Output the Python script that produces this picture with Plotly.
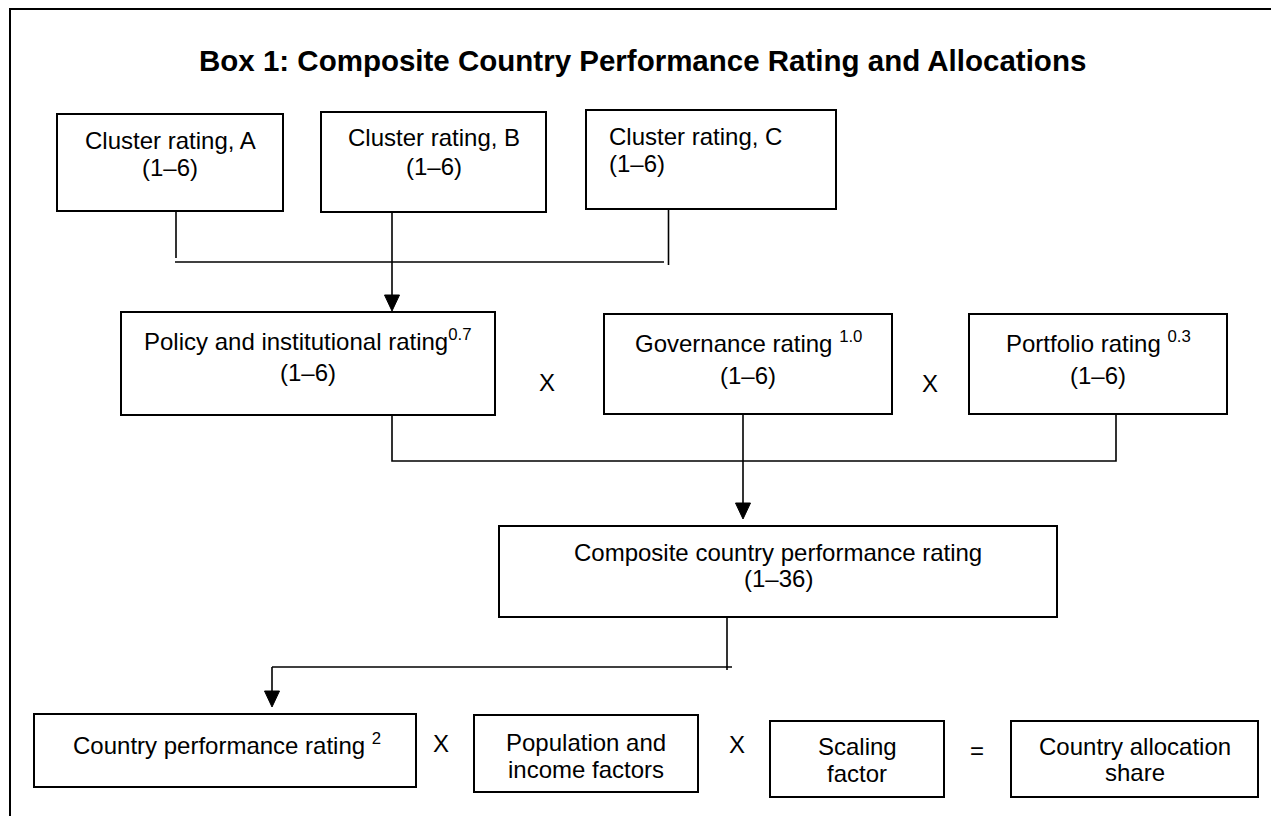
import plotly.graph_objects as go

W, H = 1279, 816
OFF = 8  # page margin of the browser: data coords == screen pixels
FONT = "Liberation Sans, Arial, Helvetica, sans-serif"

title_text = "Box 1: Composite Country Performance Rating and Allocations"

# box labels (line 1, line 2)
box_names = ["clA", "clB", "clC", "policy", "gov", "port", "comp", "cpr", "pop", "scal", "alloc"]
line1 = ["Cluster rating, A", "Cluster rating, B", "Cluster rating, C",
         "Policy and institutional rating<sup>0.7</sup>", "Governance rating <sup>1.0</sup>",
         "Portfolio rating <sup>0.3</sup>", "Composite country performance rating",
         "Country performance rating <sup>2</sup>", "Population and", "Scaling", "Country allocation"]
line2 = ["(1–6)", "(1–6)", "(1–6)", "(1–6)", "(1–6)", "(1–6)", "(1–36)",
         "", "income factors", "factor", "share"]
operators = ["X", "X", "X", "X", "="]

# ---- layout geometry (screen pixels) ----
box_rect = {  # x0, y0, x1, y1
    "clA": (57, 114, 283, 211),
    "clB": (321, 112, 546, 212),
    "clC": (586, 110, 836, 209),
    "policy": (121, 312, 495, 415),
    "gov": (604, 314, 892, 414),
    "port": (969, 314, 1227, 414),
    "comp": (499, 526, 1057, 617),
    "cpr": (34, 714, 416, 787),
    "pop": (474, 715, 698, 792),
    "scal": (770, 721, 944, 797),
    "alloc": (1011, 721, 1258, 797),
}
text_pos = {  # x, y line1, y line2, anchor
    "clA": (170, 140, 167, "center"),
    "clB": (433.5, 137, 166, "center"),
    "clC": (607, 136, 163, "left"),
    "policy": (308, 340, 372, "center"),
    "gov": (748, 342, 375, "center"),
    "port": (1098, 342, 375, "center"),
    "comp": (778, 552, 578, "center"),
    "cpr": (227, 744, None, "center"),
    "pop": (586, 742, 769, "center"),
    "scal": (857, 746, 773, "center"),
    "alloc": (1134.5, 746, 772, "center"),
}
op_pos = [(547, 382), (930, 383), (441, 743), (737, 744), (977, 750)]

# connector polylines
connectors = [
    [(176, 211), (176, 258)],
    [(175, 262), (664, 262)],
    [(668.5, 209), (668.5, 265)],
    [(392, 415), (392, 461), (1116, 461), (1116, 414)],
    [(727, 617), (727, 670)],
    [(272, 667), (732, 667)],
]
# arrows: x, y start, y tip
arrows = [(392, 212, 311), (743, 414, 519), (272, 667, 707)]
AH_W, AH_L = 15, 16

fig = go.Figure()
shapes = []
# outer frame (right and bottom edges lie outside the view)
shapes.append(dict(type="rect", xref="x", yref="y", x0=10, y0=9, x1=W + 40, y1=H + 40,
                   line=dict(color="black", width=2)))
for name in box_names:
    x0, y0, x1, y1 = box_rect[name]
    shapes.append(dict(type="rect", xref="x", yref="y", x0=x0, y0=y0, x1=x1, y1=y1,
                       line=dict(color="black", width=2), fillcolor="rgba(0,0,0,0)"))
for pts in connectors:
    path = "M " + " L ".join(f"{x},{y}" for x, y in pts)
    shapes.append(dict(type="path", xref="x", yref="y", path=path,
                       line=dict(color="black", width=1.6)))
for x, ys, yt in arrows:
    shapes.append(dict(type="line", xref="x", yref="y", x0=x, y0=ys, x1=x, y1=yt - AH_L + 1,
                       line=dict(color="black", width=1.6)))
    shapes.append(dict(type="path", xref="x", yref="y",
                       path=f"M {x - AH_W / 2},{yt - AH_L} L {x + AH_W / 2},{yt - AH_L} L {x},{yt} Z",
                       fillcolor="black", line=dict(color="black", width=1)))

ann = []
ann.append(dict(x=642, y=60, xref="x", yref="y", text="<b>" + title_text + "</b>", showarrow=False,
                font=dict(family=FONT, size=29.5, color="black"), xanchor="center", yanchor="middle"))
BODY = 24
for i, name in enumerate(box_names):
    x, y1, y2, anc = text_pos[name]
    ann.append(dict(x=x, y=y1, xref="x", yref="y", text=line1[i], showarrow=False,
                    font=dict(family=FONT, size=BODY, color="black"), xanchor=anc, yanchor="middle"))
    if line2[i] and y2 is not None:
        ann.append(dict(x=x, y=y2, xref="x", yref="y", text=line2[i], showarrow=False,
                        font=dict(family=FONT, size=BODY, color="black"), xanchor=anc, yanchor="middle"))
for op, (x, y) in zip(operators, op_pos):
    ann.append(dict(x=x, y=y, xref="x", yref="y", text=op, showarrow=False,
                    font=dict(family=FONT, size=BODY, color="black"), xanchor="center", yanchor="middle"))

fig.update_layout(
    width=W, height=H, margin=dict(l=0, r=0, t=0, b=0),
    paper_bgcolor="white", plot_bgcolor="white",
    xaxis=dict(range=[OFF, W + OFF], visible=False, fixedrange=True),
    yaxis=dict(range=[H + OFF, OFF], visible=False, fixedrange=True),
    shapes=shapes, annotations=ann, showlegend=False,
)
fig.write_html("out.html")
